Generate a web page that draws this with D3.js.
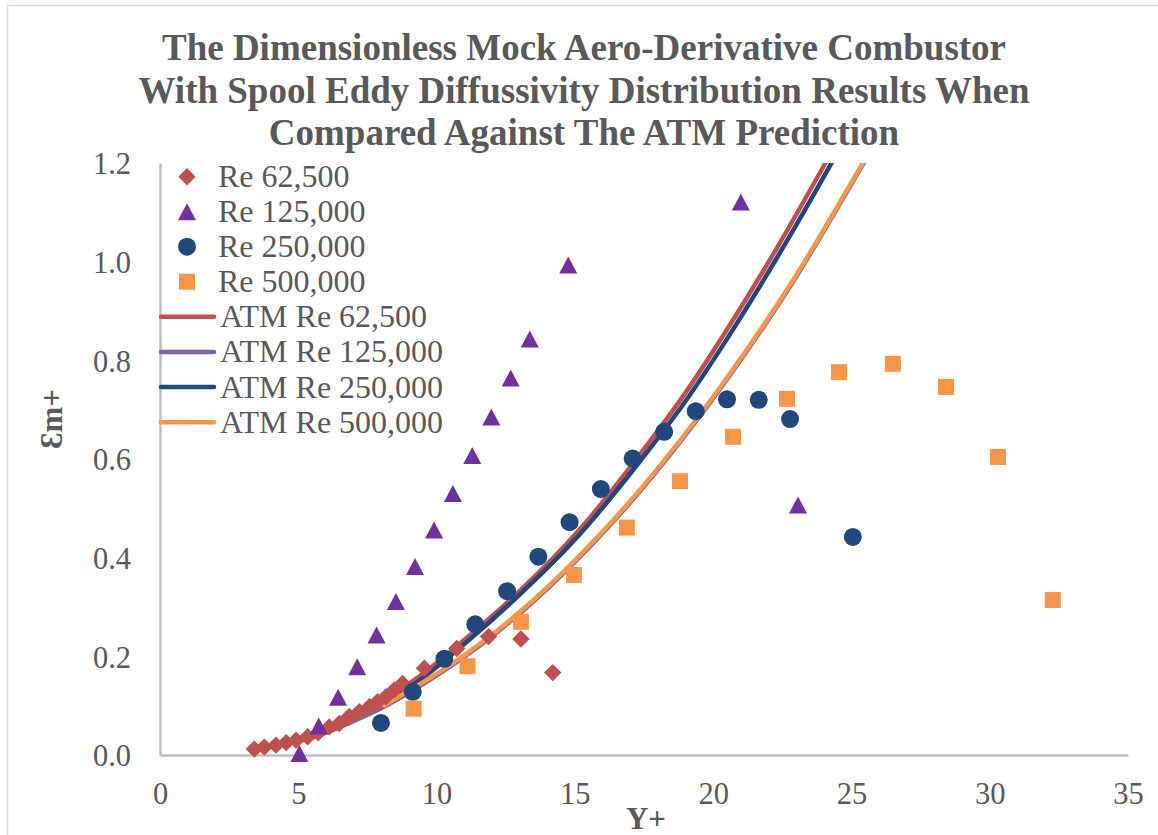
<!DOCTYPE html>
<html>
<head>
<meta charset="utf-8">
<script src="https://cdn.jsdelivr.net/npm/d3@7"></script>
<style>
  html, body { margin: 0; padding: 0; background: #fff; }
  svg { display: block; }
  text { font-family: "Liberation Serif", "Times New Roman", serif; }
</style>
</head>
<body>
<script>
// ---------------- DATA ----------------
const titleLines = [
  "The Dimensionless Mock Aero-Derivative Combustor",
  "With Spool Eddy Diffussivity Distribution Results When",
  "Compared Against The ATM Prediction"
];
const xTicks = [0, 5, 10, 15, 20, 25, 30, 35];
const yTicks = [0.0, 0.2, 0.4, 0.6, 0.8, 1.0, 1.2];
const xAxisTitle = "Y+";
const yAxisTitle = "Ɛm+";

// Measured data (markers)
const re62Y   = [3.41, 3.77, 4.19, 4.56, 4.92, 5.34, 5.72, 6.12, 6.48, 6.84, 7.21, 7.57, 7.87, 8.17, 8.47, 8.77, 9.56, 10.73, 11.88, 13.05, 14.2];
const re62E   = [0.012, 0.016, 0.020, 0.025, 0.030, 0.037, 0.045, 0.057, 0.064, 0.078, 0.088, 0.098, 0.108, 0.118, 0.132, 0.145, 0.176, 0.216, 0.240, 0.235, 0.167];
const re125Y  = [5.04, 5.74, 6.44, 7.13, 7.83, 8.53, 9.22, 9.91, 10.59, 11.29, 11.98, 12.68, 13.37, 14.76, 21.0, 23.07];
const re125E  = [0.003, 0.059, 0.117, 0.179, 0.243, 0.311, 0.382, 0.456, 0.530, 0.607, 0.685, 0.764, 0.843, 0.993, 1.121, 0.507];
const re250Y  = [7.99, 9.14, 10.28, 11.40, 12.55, 13.68, 14.81, 15.94, 17.09, 18.23, 19.37, 20.50, 21.65, 22.78, 25.05];
const re250E  = [0.065, 0.128, 0.195, 0.265, 0.332, 0.402, 0.472, 0.539, 0.601, 0.655, 0.697, 0.721, 0.720, 0.681, 0.442];
const re500Y  = [9.17, 11.12, 13.05, 14.97, 16.88, 18.80, 20.72, 22.67, 24.55, 26.50, 28.42, 30.30, 32.28];
const re500E  = [0.094, 0.180, 0.270, 0.365, 0.461, 0.555, 0.645, 0.722, 0.776, 0.793, 0.746, 0.604, 0.314];

// ATM predictions (lines)
const atm62Y  = [3.41, 4.19, 4.92, 5.72, 6.48, 7.21, 7.99, 9.19, 11.0, 12.81, 15.22, 17.39, 18.96, 20.52, 22.33, 24.08, 24.4];
const atm62E  = [0.012, 0.021, 0.031, 0.045, 0.062, 0.083, 0.110, 0.152, 0.233, 0.322, 0.460, 0.612, 0.731, 0.864, 1.030, 1.202, 1.234];
const atm125Y = [5.04, 5.74, 6.44, 7.13, 8.10, 10.40, 12.21, 14.02, 15.94, 17.39, 19.32, 21.12, 22.93, 25.34, 25.6];
const atm125E = [0.028, 0.040, 0.055, 0.072, 0.098, 0.176, 0.250, 0.338, 0.446, 0.537, 0.672, 0.811, 0.963, 1.190, 1.215];
const atm250Y = [7.99, 9.19, 11.0, 12.81, 15.22, 17.39, 18.96, 20.52, 22.33, 24.08, 24.4];
const atm250E = [0.106, 0.144, 0.225, 0.315, 0.450, 0.598, 0.714, 0.845, 1.010, 1.180, 1.212];
const atm500Y = [8.10, 10.40, 12.21, 14.02, 15.94, 17.39, 19.32, 21.12, 22.93, 25.34, 25.6];
const atm500E = [0.101, 0.179, 0.253, 0.341, 0.449, 0.540, 0.675, 0.814, 0.966, 1.193, 1.218];

const markerNames = ["Re 62,500", "Re 125,000", "Re 250,000", "Re 500,000"];
const lineNames = ["ATM Re 62,500", "ATM Re 125,000", "ATM Re 250,000", "ATM Re 500,000"];

// ---------------- STYLE ----------------
const W = 1158, H = 835;
const plot = { left: 160, right: 1128, top: 163, bottom: 755 };
const textColor = "#595959";
const axisColor = "#BFBFBF";

const zip = (a, b) => a.map((v, i) => [v, b[i]]);

const markerSeries = [
  { name: markerNames[0], pts: zip(re62Y, re62E),  shape: "diamond",  color: "#C0504D" },
  { name: markerNames[1], pts: zip(re125Y, re125E), shape: "triangle", color: "#7030A0" },
  { name: markerNames[2], pts: zip(re250Y, re250E), shape: "circle",   color: "#1F497D" },
  { name: markerNames[3], pts: zip(re500Y, re500E), shape: "square",   color: "#F79646" }
];
const lineSeries = [
  { name: lineNames[0], pts: zip(atm62Y, atm62E),   color: "#C0504D" },
  { name: lineNames[1], pts: zip(atm125Y, atm125E), color: "#8064A2" },
  { name: lineNames[2], pts: zip(atm250Y, atm250E), color: "#1F497D" },
  { name: lineNames[3], pts: zip(atm500Y, atm500E), color: "#F79646" }
];

// custom symbol types (bbox-centred, like Excel markers)
const symDiamond = { draw(ctx, s) { const r = 8.7; ctx.moveTo(0, -r); ctx.lineTo(r, 0); ctx.lineTo(0, r); ctx.lineTo(-r, 0); ctx.closePath(); } };
const symTriangle = { draw(ctx, s) { const w = 9, h = 8.5; ctx.moveTo(0, -h); ctx.lineTo(w, h); ctx.lineTo(-w, h); ctx.closePath(); } };
const symCircle = { draw(ctx, s) { const r = 9; ctx.moveTo(r, 0); ctx.arc(0, 0, r, 0, 2 * Math.PI); } };
const symSquare = { draw(ctx, s) { const r = 8; ctx.moveTo(-r, -r); ctx.lineTo(r, -r); ctx.lineTo(r, r); ctx.lineTo(-r, r); ctx.closePath(); } };
const shapes = { diamond: symDiamond, triangle: symTriangle, circle: symCircle, square: symSquare };

// ---------------- CHART ----------------
const svg = d3.select("body").append("svg").attr("width", W).attr("height", H);

svg.append("rect").attr("x", 0).attr("y", 0).attr("width", W).attr("height", H).attr("fill", "#fff");
svg.append("rect").attr("x", 7.5).attr("y", 5.5).attr("width", W + 20).attr("height", H + 20)
  .attr("fill", "none").attr("stroke", "#D9D9D9").attr("stroke-width", 1.5);

const x = d3.scaleLinear().domain([0, 35]).range([plot.left, plot.right]);
const y = d3.scaleLinear().domain([0, 1.2]).range([plot.bottom, plot.top]);

// title
const title = svg.append("text").attr("text-anchor", "middle")
  .attr("fill", textColor).attr("font-weight", "bold").attr("font-size", 37);
titleLines.forEach((t, i) => {
  title.append("tspan").attr("x", 584).attr("y", 60 + i * 42.5).text(t);
});

// axes
const xAxis = d3.axisBottom(x).tickValues(xTicks).tickSize(0).tickPadding(0).tickFormat(d3.format("d"));
const yAxis = d3.axisLeft(y).tickValues(yTicks).tickSize(0).tickPadding(0).tickFormat(d3.format(".1f"));

const gx = svg.append("g").attr("transform", `translate(0,${plot.bottom})`).call(xAxis);
gx.select(".domain").attr("stroke", axisColor).attr("stroke-width", 2.5);
gx.selectAll("text").attr("fill", textColor).attr("font-size", 30.5)
  .attr("font-family", '"Liberation Serif", "Times New Roman", serif')
  .attr("dy", null).attr("y", 49);

const gy = svg.append("g").attr("transform", `translate(${plot.left},0)`).call(yAxis);
gy.select(".domain").attr("stroke", axisColor).attr("stroke-width", 2.5);
gy.selectAll("text").attr("fill", textColor).attr("font-size", 30.5)
  .attr("font-family", '"Liberation Serif", "Times New Roman", serif')
  .attr("x", -29).attr("dy", "0.35em");

// axis titles
svg.append("text").attr("x", 646).attr("y", 829).attr("text-anchor", "middle")
  .attr("fill", textColor).attr("font-weight", "bold").attr("font-size", 31).text(xAxisTitle);
svg.append("text").attr("transform", "translate(62,419) rotate(-90)").attr("text-anchor", "middle")
  .attr("fill", textColor).attr("font-weight", "bold").attr("font-size", 31).text(yAxisTitle);

// clip
svg.append("clipPath").attr("id", "plotclip").append("rect")
  .attr("x", plot.left).attr("y", plot.top).attr("width", plot.right - plot.left + 40).attr("height", plot.bottom - plot.top + 20);

const gPlot = svg.append("g").attr("clip-path", "url(#plotclip)");

const line = d3.line().x(d => x(d[0])).y(d => y(d[1])).curve(d3.curveMonotoneX);
lineSeries.forEach(s => {
  gPlot.append("path").datum(s.pts).attr("d", line)
    .attr("fill", "none").attr("stroke", s.color).attr("stroke-width", 4.5)
    .attr("stroke-linejoin", "round").attr("stroke-linecap", "round");
});

const gMarks = svg.append("g");
markerSeries.forEach(s => {
  const sym = d3.symbol().type(shapes[s.shape]);
  gMarks.append("g").selectAll("path").data(s.pts).join("path")
    .attr("transform", d => `translate(${x(d[0])},${y(d[1])})`)
    .attr("d", sym).attr("fill", s.color);
});

// legend
const leg = svg.append("g");
markerSeries.forEach((s, i) => {
  const cy = 176.7 + i * 35;
  leg.append("path").attr("transform", `translate(187,${cy})`)
    .attr("d", d3.symbol().type(shapes[s.shape])).attr("fill", s.color);
  leg.append("text").attr("x", 218).attr("y", cy + 10.5).attr("fill", textColor)
    .attr("font-size", 32).text(s.name);
});
lineSeries.forEach((s, i) => {
  const cy = 316.7 + i * 35.2;
  leg.append("line").attr("x1", 161).attr("x2", 214).attr("y1", cy).attr("y2", cy)
    .attr("stroke", s.color).attr("stroke-width", 4.5).attr("stroke-linecap", "round");
  leg.append("text").attr("x", 220).attr("y", cy + 10.5).attr("fill", textColor)
    .attr("font-size", 32).text(s.name);
});
</script>
</body>
</html>
